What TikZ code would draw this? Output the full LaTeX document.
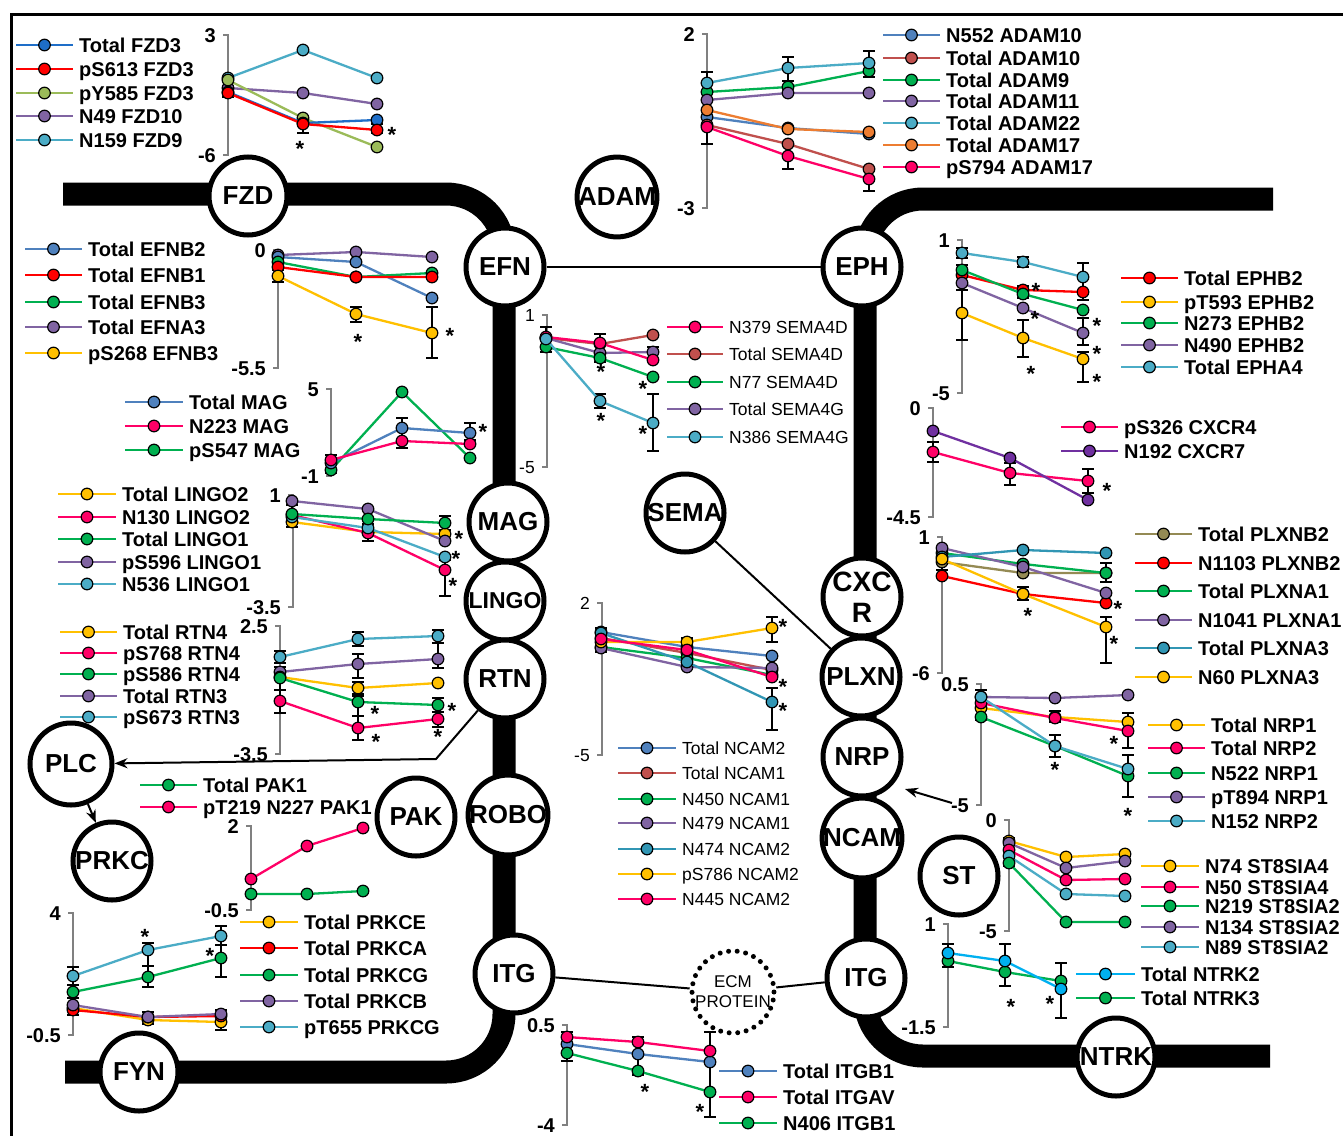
\documentclass[tikz,border=0pt]{standalone}
\usepackage{fontspec}
\setmainfont{Liberation Sans}
\usetikzlibrary{arrows.meta}
\newcounter{lgc}
\definecolor{cBlue}{RGB}{30,110,200}
\definecolor{cSteel}{RGB}{79,129,189}
\definecolor{cRed}{RGB}{255,0,0}
\definecolor{cOlive}{RGB}{155,187,89}
\definecolor{cPurple}{RGB}{128,100,162}
\definecolor{cCyan}{RGB}{75,172,198}
\definecolor{cTeal}{RGB}{49,150,180}
\definecolor{cGreen}{RGB}{0,176,80}
\definecolor{cYellow}{RGB}{255,192,0}
\definecolor{cPink}{RGB}{255,0,102}
\definecolor{cBrown}{RGB}{192,80,77}
\definecolor{cOrange}{RGB}{237,125,49}
\definecolor{cKhaki}{RGB}{148,138,84}
\definecolor{cSky}{RGB}{0,176,240}
\definecolor{cDPurple}{RGB}{112,48,160}
\tikzset{
  legt/.style={font=\bfseries\fontsize{20}{22}\selectfont, inner sep=0pt, text height=14.4pt, text depth=0pt},
  legr/.style={font=\fontsize{17.5}{20}\selectfont, inner sep=0pt, text height=12.6pt, text depth=0pt},
  axt/.style={font=\bfseries\fontsize{20}{22}\selectfont, inner sep=0pt, text height=14.4pt, text depth=0pt},
  axl/.style={draw=black!50, line width=1.3pt},
  ebs/.style={draw=black, line width=1.5pt},
  serl/.style={line width=2.3pt, mark=*, mark size=5.8pt},
  astn/.style={font=\bfseries\fontsize{22}{24}\selectfont, inner sep=0pt},
  circ/.style={circle, draw=black, line width=5pt, fill=white, minimum size=78pt, inner sep=0pt, align=center, font=\bfseries\fontsize{26}{31}\selectfont},
  ecmst/.style={circle, draw=black, line width=5pt, dash pattern=on 0pt off 8.6pt, line cap=round, minimum size=78pt, inner sep=0pt, align=center, font=\fontsize{17}{20}\selectfont},
  memb/.style={draw=black, line width=23pt, rounded corners=58pt, line cap=butt},
  conn/.style={draw=black, line width=2pt},
  arrw/.style={conn, -{Stealth[length=13pt,width=10pt]}}
}
\newcommand{\mkser}[2]{\draw[serl, #1, mark options={draw=black, fill=#1, line width=1.2pt, solid}] plot coordinates {#2};}
\newcommand{\mkleg}[6][legt]{%
  \draw[#5, line width=2.3pt] (#2,#4) -- (#3,#4);
  \draw[black, fill=#5, line width=1.2pt] ({(#2+#3)/2},#4) circle (5.8pt);
  \stepcounter{lgc}%
  \node[#1, anchor=west] (lg\arabic{lgc}) at (#3+6,#4) {#6};}
\newcommand{\ebar}[3]{\draw[ebs] (#1,#2) -- (#1,#3) (#1-6,#2) -- (#1+6,#2) (#1-6,#3) -- (#1+6,#3);}
\newcommand{\mkast}[2]{\stepcounter{lgc}\node[astn] (ak\arabic{lgc}) at (#1,#2+4) {*};}
\newcommand{\mkaxis}[6][axt]{%
  \draw[axl] (#2-5,#3) -- (#2,#3) -- (#2,#4) -- (#2-5,#4);
  \stepcounter{lgc}\node[#1, anchor=east] (ax\arabic{lgc}) at (#2-12,#3) {#5};
  \stepcounter{lgc}\node[#1, anchor=east] (ax\arabic{lgc}) at (#2-12,#4) {#6};}
\begin{document}
\begin{tikzpicture}[x=1pt,y=-1pt]
\useasboundingbox (0,0) rectangle (1343,1135);
\fill[white] (0,0) rectangle (1343,1135);
% frame
\draw[line width=3pt] (11,1145) -- (11,14) -- (1350,14);
% membranes
\draw[memb] (63,194) -- (504,194) -- (504,1072) -- (65,1072);
\draw[memb] (1273,199) -- (865,199) -- (865,1056) -- (1270,1056);
% nodes
\node[circ] (fzd) at (248,196) {FZD};
\node[circ] (adam) at (617,197) {ADAM};
\node[circ] (efn) at (505,267) {EFN};
\node[circ] (eph) at (862,267) {EPH};
\node[circ] (mag) at (508,522) {MAG};
\node[circ, font=\bfseries\fontsize{23}{26}\selectfont] (lingo) at (505,601) {LINGO};
\node[circ] (rtn) at (505,679) {RTN};
\node[circ] (robo) at (508,815) {ROBO};
\node[circ] (itgL) at (514,974) {ITG};
\node[circ] (sema) at (685,513) {SEMA};
\node[circ, font=\bfseries\fontsize{28}{31}\selectfont] (cxcr) at (862,597) {CXC\\R};
\node[circ] (plxn) at (861,677) {PLXN};
\node[circ] (nrp) at (862,757) {NRP};
\node[circ] (ncam) at (862,838) {NCAM};
\node[circ] (itgR) at (866,978) {ITG};
\node[ecmst] (ecm) at (733,992) {ECM\\PROTEIN};
\node[circ, minimum size=82pt] (plc) at (71,764) {PLC};
\node[circ] (prkc) at (112,861) {PRKC};
\node[circ] (pak) at (416,817) {PAK};
\node[circ] (fyn) at (139,1072) {FYN};
\node[circ] (st) at (959,876) {ST};
\node[circ] (ntrk) at (1116,1057) {NTRK};
% connectors
\draw[conn] (efn) -- (eph);
\draw[conn] (sema) -- (plxn);
\draw[conn] (itgL) -- (ecm);
\draw[conn] (ecm) -- (itgR);
\coordinate (rtnbend) at (436,759);
\draw[arrw] (rtn) -- (rtnbend) -- (plc);
\draw[arrw] (plc) -- (prkc);
\coordinate (nrptail) at (952,803);
\coordinate (nrptip) at (905,789);
\draw[arrw] (nrptail) -- (nrptip);

% ===== FZD chart
\mkaxis{228}{35}{155}{3}{-6}
\ebar{228}{86}{97}\ebar{303}{116}{133}\ebar{377}{124}{133}
\mkser{cCyan}{(228,78) (303,50) (377,78)}
\mkser{cPurple}{(228,88) (303,93) (377,104)}
\mkser{cOlive}{(228,80) (303,118) (377,147)}
\mkser{cBlue}{(228,92) (303,123) (377,120)}
\mkser{cRed}{(228,93) (303,124) (377,130)}
\mkast{300}{145}\mkast{392}{131}
\mkleg{16}{73}{45}{cBlue}{Total FZD3}
\mkleg{16}{73}{69}{cRed}{pS613 FZD3}
\mkleg{16}{73}{93}{cOlive}{pY585 FZD3}
\mkleg{16}{73}{116}{cPurple}{N49 FZD10}
\mkleg{16}{73}{140}{cCyan}{N159 FZD9}

% ===== ADAM chart
\mkaxis{707}{34}{208}{2}{-3}
\ebar{707}{72}{144}\ebar{788}{57}{81}\ebar{788}{143}{169}\ebar{869}{51}{77}\ebar{869}{168}{191}
\mkser{cSteel}{(707,117) (788,128) (869,134)}
\mkser{cBrown}{(707,125) (788,144) (869,169)}
\mkser{cGreen}{(707,92) (788,87) (869,71)}
\mkser{cPurple}{(707,100) (788,93) (869,93)}
\mkser{cCyan}{(707,83) (788,68) (869,63)}
\mkser{cOrange}{(707,110) (788,129) (869,132)}
\mkser{cPink}{(707,127) (788,156) (869,179)}
\mkleg{883}{940}{35}{cSteel}{N552 ADAM10}
\mkleg{883}{940}{58}{cBrown}{Total ADAM10}
\mkleg{883}{940}{80}{cGreen}{Total ADAM9}
\mkleg{883}{940}{101}{cPurple}{Total ADAM11}
\mkleg{883}{940}{123}{cCyan}{Total ADAM22}
\mkleg{883}{940}{145}{cOrange}{Total ADAM17}
\mkleg{883}{940}{167}{cPink}{pS794 ADAM17}

% ===== EFN chart
\mkaxis{278}{250}{368}{0}{-5.5}
\ebar{278}{270}{282}\ebar{356}{307}{322}\ebar{432}{307}{358}
\mkser{cPurple}{(278,255) (356,252) (432,257)}
\mkser{cSteel}{(278,257) (356,262) (432,298)}
\mkser{cGreen}{(278,262) (356,277) (432,273)}
\mkser{cRed}{(278,267) (356,277) (432,277)}
\mkser{cYellow}{(278,276) (356,314) (432,333)}
\mkast{358}{338}\mkast{450}{332}
\mkleg{25}{82}{249}{cSteel}{Total EFNB2}
\mkleg{25}{82}{275}{cRed}{Total EFNB1}
\mkleg{25}{82}{302}{cGreen}{Total EFNB3}
\mkleg{25}{82}{327}{cPurple}{Total EFNA3}
\mkleg{25}{82}{353}{cYellow}{pS268 EFNB3}

% ===== EPH chart
\mkaxis{962}{240}{393}{1}{-5}
\ebar{962}{248}{258}\ebar{962}{265}{290}\ebar{962}{290}{340}
\ebar{1023}{257}{267}\ebar{1023}{286}{298}\ebar{1023}{320}{357}
\ebar{1083}{263}{300}\ebar{1083}{318}{345}\ebar{1083}{352}{382}
\mkser{cCyan}{(962,253) (1023,262) (1083,277)}
\mkser{cRed}{(962,275) (1023,290) (1083,292)}
\mkser{cGreen}{(962,270) (1023,294) (1083,310)}
\mkser{cPurple}{(962,283) (1023,308) (1083,333)}
\mkser{cYellow}{(962,313) (1023,338) (1083,359)}
\mkast{1036}{287}\mkast{1035}{315}\mkast{1031}{370}
\mkast{1097}{322}\mkast{1097}{350}\mkast{1097}{378}
\mkleg{1121}{1178}{278}{cRed}{Total EPHB2}
\mkleg{1121}{1178}{302}{cYellow}{pT593 EPHB2}
\mkleg{1121}{1178}{323}{cGreen}{N273 EPHB2}
\mkleg{1121}{1178}{345}{cPurple}{N490 EPHB2}
\mkleg{1121}{1178}{367}{cCyan}{Total EPHA4}

% ===== SEMA chart
\mkaxis[legr]{547}{315}{467}{1}{-5}
\ebar{546}{327}{352}\ebar{600}{334}{362}\ebar{600}{394}{408}\ebar{653}{347}{360}\ebar{653}{394}{451}
\mkser{cBrown}{(546,338) (600,344) (653,335)}
\mkser{cPurple}{(546,338) (600,353) (653,352)}
\mkser{cPink}{(546,337) (600,343) (653,360)}
\mkser{cGreen}{(546,347) (600,358) (653,377)}
\mkser{cCyan}{(546,339) (600,401) (653,423)}
\mkast{601}{368}\mkast{601}{417}\mkast{643}{385}\mkast{643}{430}
\mkleg[legr]{667}{723}{327}{cPink}{N379 SEMA4D}
\mkleg[legr]{667}{723}{354}{cBrown}{Total SEMA4D}
\mkleg[legr]{667}{723}{382}{cGreen}{N77 SEMA4D}
\mkleg[legr]{667}{723}{409}{cPurple}{Total SEMA4G}
\mkleg[legr]{667}{723}{437}{cCyan}{N386 SEMA4G}

% ===== MAG chart
\mkaxis{331}{389}{476}{5}{-1}
\ebar{331}{455}{473}\ebar{402}{418}{448}\ebar{470}{423}{440}
\mkser{cGreen}{(331,470) (402,392) (470,458)}
\mkser{cSteel}{(331,463) (402,428) (470,433)}
\mkser{cPink}{(331,460) (402,441) (470,444)}
\mkast{483}{428}
\mkleg{125}{183}{402}{cSteel}{Total MAG}
\mkleg{125}{183}{426}{cPink}{N223 MAG}
\mkleg{125}{183}{450}{cGreen}{pS547 MAG}

% ===== LINGO chart
\mkaxis{293}{495}{607}{1}{-3.5}
\ebar{292}{505}{527}\ebar{368}{524}{541}\ebar{445}{516}{530}\ebar{445}{560}{596}
\mkser{cYellow}{(292,522) (368,532) (445,534)}
\mkser{cPink}{(292,515) (368,533) (445,570)}
\mkser{cCyan}{(292,517) (368,528) (445,557)}
\mkser{cPurple}{(292,501) (368,509) (445,541)}
\mkser{cGreen}{(292,514) (368,519) (445,523)}
\mkast{459}{535}\mkast{456}{555}\mkast{453}{582}
\mkleg{58}{116}{494}{cYellow}{Total LINGO2}
\mkleg{58}{116}{517}{cPink}{N130 LINGO2}
\mkleg{58}{116}{539}{cGreen}{Total LINGO1}
\mkleg{58}{116}{562}{cPurple}{pS596 LINGO1}
\mkleg{58}{116}{584}{cCyan}{N536 LINGO1}

% ===== RTN chart
\mkaxis{280}{626}{754}{2.5}{-3.5}
\ebar{280}{651}{663}\ebar{280}{667}{690}\ebar{280}{690}{713}
\ebar{358}{632}{646}\ebar{358}{654}{678}\ebar{358}{682}{694}\ebar{358}{696}{716}\ebar{358}{716}{740}
\ebar{438}{630}{643}\ebar{438}{643}{668}\ebar{438}{698}{712}\ebar{438}{712}{727}
\mkser{cCyan}{(280,657) (358,639) (438,636)}
\mkser{cPurple}{(280,672) (358,664) (438,659)}
\mkser{cYellow}{(280,677) (358,688) (438,683)}
\mkser{cGreen}{(280,678) (358,702) (438,705)}
\mkser{cPink}{(280,701) (358,728) (438,719)}
\mkast{375}{710}\mkast{376}{738}\mkast{452}{707}\mkast{438}{733}
\mkleg{60}{117}{632}{cYellow}{Total RTN4}
\mkleg{60}{117}{653}{cPink}{pS768 RTN4}
\mkleg{60}{117}{674}{cGreen}{pS586 RTN4}
\mkleg{60}{117}{696}{cPurple}{Total RTN3}
\mkleg{60}{117}{717}{cCyan}{pS673 RTN3}

% ===== PAK chart
\mkaxis{251}{826}{910}{2}{-0.5}
\mkser{cPink}{(251,879) (307,846) (363,828)}
\mkser{cGreen}{(251,894) (307,894) (363,891)}
\mkleg{140}{197}{785}{cGreen}{Total PAK1}
\mkleg{140}{197}{807}{cPink}{pT219 N227 PAK1}

% ===== PRKC chart
\mkaxis{73}{913}{1035}{4}{-0.5}
\ebar{73}{967}{985}\ebar{73}{998}{1015}
\ebar{148}{943}{966}\ebar{148}{966}{987}\ebar{148}{1012}{1024}
\ebar{221}{926}{945}\ebar{221}{945}{977}\ebar{221}{1010}{1030}
\mkser{cCyan}{(73,976) (148,950) (221,936)}
\mkser{cGreen}{(73,992) (148,977) (221,958)}
\mkser{cYellow}{(73,1008) (148,1020) (221,1022)}
\mkser{cRed}{(73,1010) (148,1017) (221,1016)}
\mkser{cPurple}{(73,1005) (148,1017) (221,1014)}
\mkast{145}{933}\mkast{210}{952}
\mkleg{240}{298}{922}{cYellow}{Total PRKCE}
\mkleg{240}{298}{948}{cRed}{Total PRKCA}
\mkleg{240}{298}{975}{cGreen}{Total PRKCG}
\mkleg{240}{298}{1001}{cPurple}{Total PRKCB}
\mkleg{240}{298}{1027}{cCyan}{pT655 PRKCG}

% ===== NCAM chart
\mkaxis[legr]{602}{603}{755}{2}{-5}
\ebar{601}{628}{652}\ebar{687}{638}{650}\ebar{772}{617}{642}\ebar{772}{688}{730}
\mkser{cSteel}{(601,632) (687,647) (772,656)}
\mkser{cBrown}{(601,638) (687,653) (772,670)}
\mkser{cGreen}{(601,647) (687,658) (772,675)}
\mkser{cPurple}{(601,648) (687,667) (772,668)}
\mkser{cTeal}{(601,633) (687,662) (772,702)}
\mkser{cYellow}{(601,642) (687,642) (772,628)}
\mkser{cPink}{(601,639) (687,650) (772,677)}
\mkast{783}{623}\mkast{783}{683}\mkast{783}{707}
\mkleg[legr]{618}{676}{748}{cSteel}{Total NCAM2}
\mkleg[legr]{618}{676}{773}{cBrown}{Total NCAM1}
\mkleg[legr]{618}{676}{799}{cGreen}{N450 NCAM1}
\mkleg[legr]{618}{676}{823}{cPurple}{N479 NCAM1}
\mkleg[legr]{618}{676}{849}{cTeal}{N474 NCAM2}
\mkleg[legr]{618}{676}{874}{cYellow}{pS786 NCAM2}
\mkleg[legr]{618}{676}{899}{cPink}{N445 NCAM2}

% ===== CXCR chart
\mkaxis{933}{408}{517}{0}{-4.5}
\ebar{933}{442}{462}\ebar{1010}{463}{485}\ebar{1088}{469}{493}
\mkser{cPink}{(933,452) (1010,473) (1088,481)}
\mkser{cDPurple}{(933,431) (1010,458) (1088,500)}
\mkast{1107}{487}
\mkleg{1061}{1118}{427}{cPink}{pS326 CXCR4}
\mkleg{1061}{1118}{451}{cDPurple}{N192 CXCR7}

% ===== PLXN chart
\mkaxis{942}{537}{673}{1}{-6}
\ebar{942}{550}{570}\ebar{1023}{563}{575}\ebar{1023}{587}{600}\ebar{1106}{563}{582}\ebar{1106}{617}{663}
\mkser{cKhaki}{(942,562) (1023,573) (1106,573)}
\mkser{cRed}{(942,576) (1023,594) (1106,603)}
\mkser{cGreen}{(942,553) (1023,564) (1106,573)}
\mkser{cPurple}{(942,548) (1023,567) (1106,593)}
\mkser{cTeal}{(942,557) (1023,550) (1106,553)}
\mkser{cYellow}{(942,559) (1023,594) (1106,627)}
\mkast{1028}{612}\mkast{1118}{605}\mkast{1114}{640}
\mkleg{1135}{1192}{534}{cKhaki}{Total PLXNB2}
\mkleg{1135}{1192}{563}{cRed}{N1103 PLXNB2}
\mkleg{1135}{1192}{591}{cGreen}{Total PLXNA1}
\mkleg{1135}{1192}{620}{cPurple}{N1041 PLXNA1}
\mkleg{1135}{1192}{648}{cTeal}{Total PLXNA3}
\mkleg{1135}{1192}{677}{cYellow}{N60 PLXNA3}

% ===== NRP chart
\mkaxis{981}{684}{805}{0.5}{-5}
\ebar{981}{690}{720}\ebar{1055}{711}{722}\ebar{1055}{735}{757}\ebar{1128}{713}{748}\ebar{1128}{755}{797}
\mkser{cPurple}{(981,697) (1055,698) (1128,695)}
\mkser{cYellow}{(981,708) (1055,717) (1128,722)}
\mkser{cPink}{(981,703) (1055,718) (1128,731)}
\mkser{cGreen}{(981,717) (1055,746) (1128,776)}
\mkser{cCyan}{(981,697) (1055,746) (1128,769)}
\mkast{1055}{766}\mkast{1114}{740}\mkast{1128}{812}
\mkleg{1148}{1205}{725}{cYellow}{Total NRP1}
\mkleg{1148}{1205}{748}{cPink}{Total NRP2}
\mkleg{1148}{1205}{773}{cGreen}{N522 NRP1}
\mkleg{1148}{1205}{797}{cPurple}{pT894 NRP1}
\mkleg{1148}{1205}{821}{cCyan}{N152 NRP2}

% ===== ST chart
\mkaxis{1009}{820}{931}{0}{-5}
\ebar{1009}{838}{866}
\mkser{cYellow}{(1009,841) (1066,857) (1125,854)}
\mkser{cPurple}{(1009,843) (1066,868) (1125,861)}
\mkser{cPink}{(1009,850) (1066,880) (1125,879)}
\mkser{cCyan}{(1009,856) (1066,894) (1125,896)}
\mkser{cGreen}{(1009,863) (1066,922) (1125,922)}
\mkleg{1141}{1199}{866}{cYellow}{N74 ST8SIA4}
\mkleg{1141}{1199}{887}{cPink}{N50 ST8SIA4}
\mkleg{1141}{1199}{906}{cGreen}{N219 ST8SIA2}
\mkleg{1141}{1199}{927}{cPurple}{N134 ST8SIA2}
\mkleg{1141}{1199}{947}{cCyan}{N89 ST8SIA2}

% ===== NTRK chart
\mkaxis{948}{924}{1027}{1}{-1.5}
\ebar{948}{944}{967}\ebar{1005}{944}{986}\ebar{1061}{963}{1018}
\mkser{cGreen}{(948,961) (1005,972) (1061,981)}
\mkser{cSky}{(948,953) (1005,961) (1061,989)}
\mkast{1011}{1003}\mkast{1050}{1000}
\mkleg{1076}{1135}{974}{cSky}{Total NTRK2}
\mkleg{1076}{1135}{998}{cGreen}{Total NTRK3}

% ===== ITG chart
\mkaxis{567}{1025}{1125}{0.5}{-4}
\ebar{567}{1032}{1061}\ebar{638}{1037}{1075}\ebar{710}{1032}{1117}
\mkser{cSteel}{(567,1044) (638,1054) (710,1062)}
\mkser{cPink}{(567,1037) (638,1042) (710,1051)}
\mkser{cGreen}{(567,1053) (638,1071) (710,1092)}
\mkast{645}{1088}\mkast{700}{1108}
\mkleg{719}{777}{1071}{cSteel}{Total ITGB1}
\mkleg{719}{777}{1097}{cPink}{Total ITGAV}
\mkleg{719}{777}{1123}{cGreen}{N406 ITGB1}
\end{tikzpicture}
\end{document}
